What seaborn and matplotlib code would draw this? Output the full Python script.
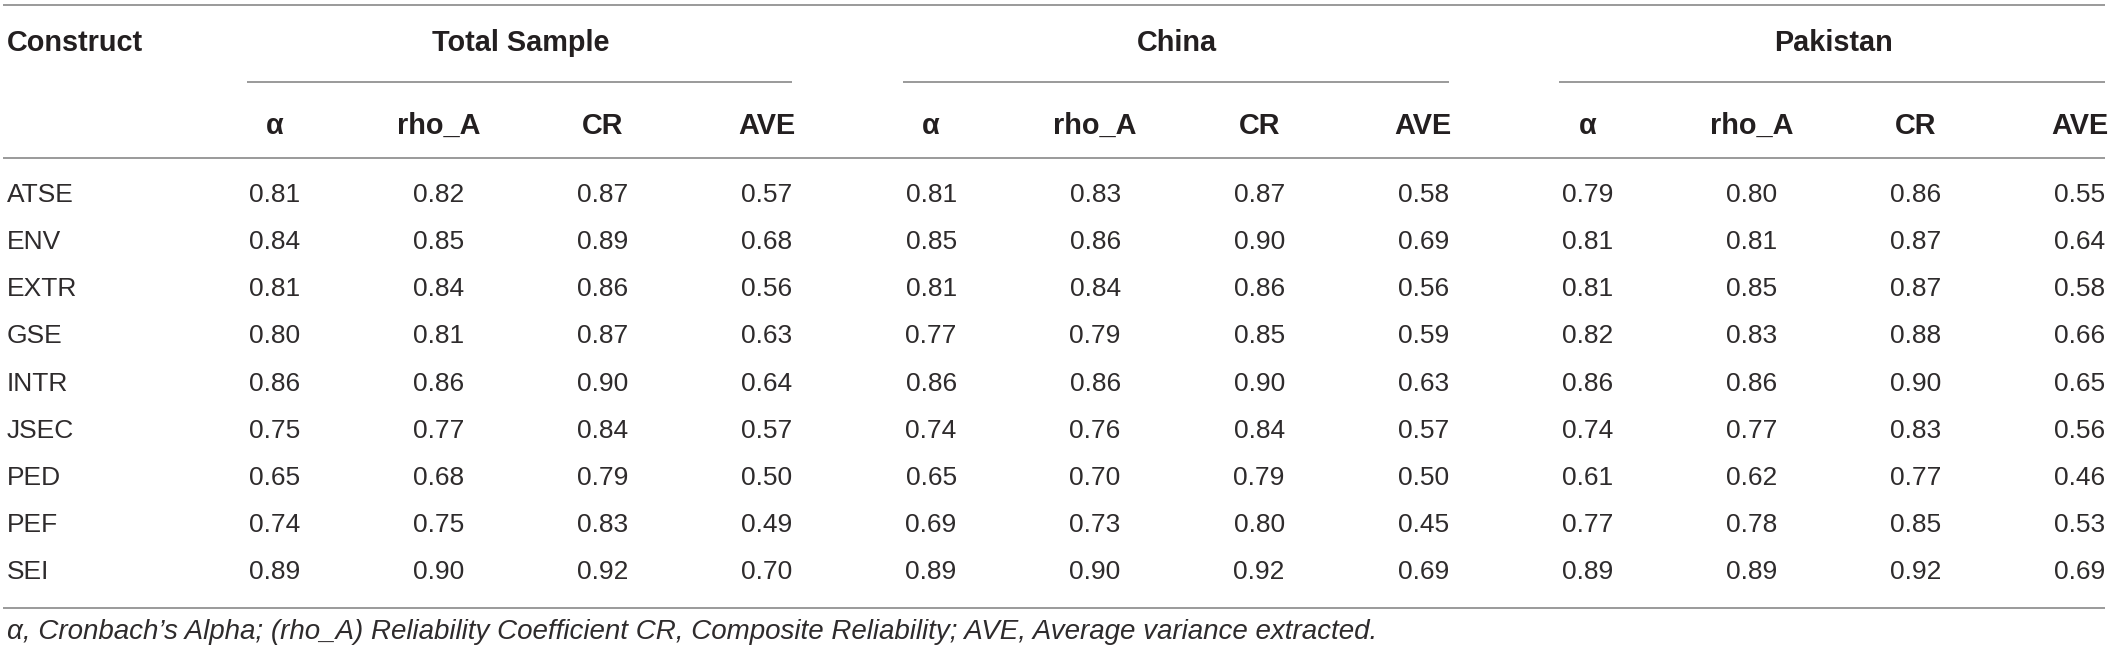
import matplotlib
matplotlib.use("Agg")
import matplotlib.pyplot as plt
from matplotlib.colors import ListedColormap
import numpy as np
import pandas as pd
import seaborn as sns

# ---------------- data ----------------
constructs = ["ATSE", "ENV", "EXTR", "GSE", "INTR", "JSEC", "PED", "PEF", "SEI"]
groups = ["Total Sample", "China", "Pakistan"]
measures = ["\u03b1", "rho_A", "CR", "AVE"]

total_alpha = [0.81, 0.84, 0.81, 0.80, 0.86, 0.75, 0.65, 0.74, 0.89]
total_rho = [0.82, 0.85, 0.84, 0.81, 0.86, 0.77, 0.68, 0.75, 0.90]
total_cr = [0.87, 0.89, 0.86, 0.87, 0.90, 0.84, 0.79, 0.83, 0.92]
total_ave = [0.57, 0.68, 0.56, 0.63, 0.64, 0.57, 0.50, 0.49, 0.70]

china_alpha = [0.81, 0.85, 0.81, 0.77, 0.86, 0.74, 0.65, 0.69, 0.89]
china_rho = [0.83, 0.86, 0.84, 0.79, 0.86, 0.76, 0.70, 0.73, 0.90]
china_cr = [0.87, 0.90, 0.86, 0.85, 0.90, 0.84, 0.79, 0.80, 0.92]
china_ave = [0.58, 0.69, 0.56, 0.59, 0.63, 0.57, 0.50, 0.45, 0.69]

pak_alpha = [0.79, 0.81, 0.81, 0.82, 0.86, 0.74, 0.61, 0.77, 0.89]
pak_rho = [0.80, 0.81, 0.85, 0.83, 0.86, 0.77, 0.62, 0.78, 0.89]
pak_cr = [0.86, 0.87, 0.87, 0.88, 0.90, 0.83, 0.77, 0.85, 0.92]
pak_ave = [0.55, 0.64, 0.58, 0.66, 0.65, 0.56, 0.46, 0.53, 0.69]

header_first = "Construct"
footnote = ("\u03b1, Cronbach\u2019s Alpha; (rho_A) Reliability Coefficient CR, "
            "Composite Reliability; AVE, Average variance extracted.")

# ---------------- style ----------------
sns.set_theme(style="white")
plt.rcParams["font.family"] = ["Liberation Sans", "DejaVu Sans"]
TXT = "#231f20"
BODY_TXT = "#2e2b2c"
LINE = "#7f7f7f"
BODY_FS = 19
HEAD_FS = 20.8
FOOT_FS = 20
LW = 1.1

columns = [(g, m) for g in groups for m in measures]
values = np.column_stack([
    total_alpha, total_rho, total_cr, total_ave,
    china_alpha, china_rho, china_cr, china_ave,
    pak_alpha, pak_rho, pak_cr, pak_ave,
])
df = pd.DataFrame(values, index=constructs,
                  columns=pd.MultiIndex.from_tuples(columns))

W, H = 2118, 657
fig = plt.figure(figsize=(W / 100, H / 100), dpi=100)
fig.patch.set_facecolor("white")
ax = fig.add_axes([0.09103, 0.0934, 0.92951, 0.6455])

sns.heatmap(df, ax=ax, cmap=ListedColormap(["white"]), cbar=False,
            annot=True, fmt=".2f",
            annot_kws=dict(fontsize=BODY_FS, color=BODY_TXT),
            xticklabels=measures * len(groups), yticklabels=constructs,
            linewidths=0)
ax.set_xlabel("")
ax.set_ylabel("")

# column sub-headers on top
ax.xaxis.tick_top()
ax.tick_params(axis="x", length=0, pad=33.1, colors=TXT)
plt.setp(ax.get_xticklabels(), rotation=0, fontsize=HEAD_FS,
         fontweight="bold", va="center", color=TXT)

# row labels, left aligned near the figure edge
ax.tick_params(axis="y", length=0, pad=133.8, colors=BODY_TXT)
plt.setp(ax.get_yticklabels(), rotation=0, fontsize=BODY_FS,
         ha="left", va="center", color=BODY_TXT)

for s in ax.spines.values():
    s.set_visible(False)

# ---------------- rules & headers (data units of the table axes) ----------------
x_left, x_right = -1.157, 11.655
for y in (-3.53, -0.284, 9.265):
    ax.plot([x_left, x_right], [y, y], color=LINE, lw=LW, clip_on=False,
            solid_capstyle="butt")
for gi, g in enumerate(groups):
    ax.plot([gi * 4 + 0.33, gi * 4 + 3.655], [-1.90, -1.90], color=LINE,
            lw=LW, clip_on=False, solid_capstyle="butt")
    ax.text(gi * 4 + 2.0, -2.73, g, ha="center", va="center",
            fontsize=HEAD_FS, fontweight="bold", color=TXT)

ax.text(-1.1325, -2.73, header_first, ha="left", va="center",
        fontsize=HEAD_FS, fontweight="bold", color=TXT)
ax.text(-1.1325, 9.775, footnote, ha="left", va="center",
        fontsize=FOOT_FS, fontstyle="italic", color=BODY_TXT)

ax.set_xlim(0, len(columns))
ax.set_ylim(len(constructs), 0)

fig.savefig("out.png", dpi=100, facecolor="white")
